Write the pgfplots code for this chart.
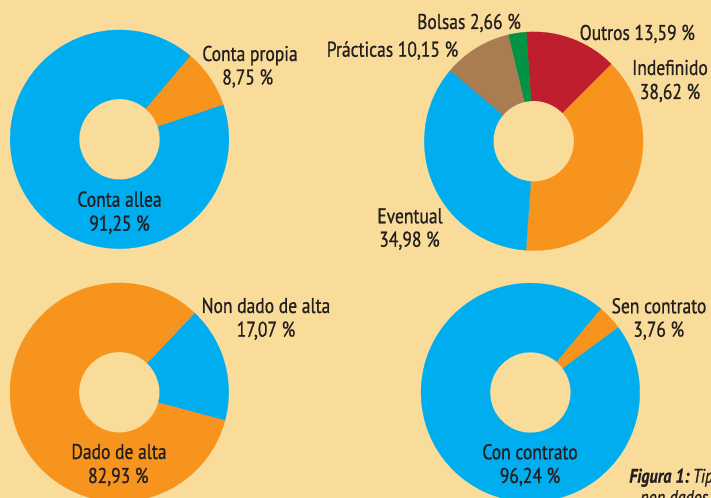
\documentclass[border=0pt]{standalone}
\usepackage{pgfplots}
\pgfplotsset{compat=1.18}
\usepackage{fontspec}
\setmainfont{PT Sans}[FakeStretch=0.82, FakeBold=0.8]
\definecolor{bgC}{RGB}{249,220,153}
\definecolor{blueC}{RGB}{0,174,239}
\definecolor{orangeC}{RGB}{247,148,30}
\definecolor{redC}{RGB}{190,30,45}
\definecolor{greenC}{RGB}{0,148,68}
\definecolor{brownC}{RGB}{169,124,82}
\definecolor{txtC}{RGB}{35,31,32}
\tikzset{lab/.style={anchor=base, inner sep=0pt, text=txtC, font=\fontsize{15.2}{18}\selectfont}}
% one ring sector: centre x, centre y, start angle, share in %, colour
\newcommand{\slice}[5]{%
  \fill[#5, draw=#5, line width=0.2pt] (axis cs:#1,#2) ++(#3:2.7325cm)
    arc[start angle=#3, delta angle={#4*3.6}, radius=2.7325cm]
    -- ++({#3+#4*3.6+180}:1.7225cm)
    arc[start angle={#3+#4*3.6}, delta angle={-#4*3.6}, radius=1.01cm] -- cycle;}
\begin{document}
\begin{tikzpicture}
\begin{axis}[x=0.025cm, y=0.025cm, xmin=0, xmax=711, ymin=0, ymax=498,
  hide axis, clip=false]
\fill[bgC] (axis cs:0,0) rectangle (axis cs:711,498);
% Conta propia / allea
\slice{119.5}{358.7}{18.3}{8.75}{orangeC}
\slice{119.5}{358.7}{49.8}{91.25}{blueC}
% tipo de contrato
\slice{533.7}{356.8}{-94.0}{38.62}{orangeC}
\slice{533.7}{356.8}{45.0}{13.59}{redC}
\slice{533.7}{356.8}{93.9}{2.66}{greenC}
\slice{533.7}{356.8}{103.5}{10.15}{brownC}
\slice{533.7}{356.8}{140.0}{34.98}{blueC}
% dado de alta
\slice{119.3}{105.7}{-15.0}{17.07}{blueC}
\slice{119.3}{105.7}{46.5}{82.93}{orangeC}
% contrato
\slice{530.4}{105.5}{36.5}{3.76}{orangeC}
\slice{530.4}{105.5}{50.0}{96.24}{blueC}
% labels
\node[lab] at (axis cs:250,437) {Conta propia};
\node[lab] at (axis cs:247.7,413.5) {8,75 \%};
\node[lab] at (axis cs:119.5,291.3) {Conta allea};
\node[lab] at (axis cs:119.5,267.3) {91,25 \%};
\node[lab] at (axis cs:469,469) {Bolsas 2,66 \%};
\node[lab, anchor=base east] at (axis cs:458.5,441.3) {Prácticas 10,15 \%};
\node[lab] at (axis cs:637.3,458) {Outros 13,59 \%};
\node[lab] at (axis cs:670,423) {Indefinido};
\node[lab] at (axis cs:670,399) {38,62 \%};
\node[lab] at (axis cs:410,274.7) {Eventual};
\node[lab] at (axis cs:409.5,251.3) {34,98 \%};
\node[lab] at (axis cs:266,185) {Non dado de alta};
\node[lab] at (axis cs:266,161.3) {17,07 \%};
\node[lab] at (axis cs:119,39) {Dado de alta};
\node[lab] at (axis cs:118.3,15) {82,93 \%};
\node[lab] at (axis cs:659,184.7) {Sen contrato};
\node[lab] at (axis cs:658.7,161.3) {3,76 \%};
\node[lab] at (axis cs:530,38.7) {Con contrato};
\node[lab] at (axis cs:530,15) {96,24 \%};
\node[lab, anchor=base west, font=\fontsize{14}{17}\selectfont] at (axis cs:629,15.3)
  {\textbf{\textit{Figura 1:}}\,\textit{Tipo de contrato}};
\node[lab, anchor=base west, font=\fontsize{14}{17}\selectfont] at (axis cs:640,-6)
  {\textit{non dados}};
\end{axis}
\pgfresetboundingbox
\useasboundingbox (current axis.south west) rectangle (current axis.north east);
\end{tikzpicture}
\end{document}
